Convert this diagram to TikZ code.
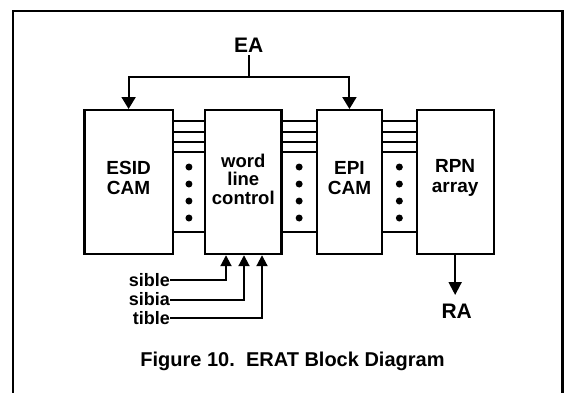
\documentclass[tikz,border=0pt]{standalone}
\usepackage{fontspec}
\setmainfont{Liberation Sans}
\usetikzlibrary{arrows.meta,calc}
\begin{document}
\begin{tikzpicture}[x=1pt,y=-1pt,
  blk/.style={draw,line width=2.2pt,inner sep=0pt,anchor=north west},
  blktxt/.style={align=center,inner sep=0pt,font=\fontsize{19}{20}\bfseries\selectfont},
  lbl/.style={inner sep=0pt,font=\fontsize{18}{18}\bfseries\selectfont},
  big/.style={inner sep=0pt,font=\fontsize{21}{21}\bfseries\selectfont},
  wire/.style={line width=2pt},
  arr/.style={wire,-{Triangle[width=14pt,length=12pt]}},
  arrs/.style={wire,-{Triangle[width=11pt,length=11pt]}},
  bus/.style={line width=2pt},
  dot/.style={circle,fill,inner sep=0pt,minimum size=7pt}
]
\useasboundingbox (0,0) rectangle (565,392);
% frame
\draw[line width=2.2pt] (13.3,400) -- (13.3,11) -- (562.5,11) -- (562.5,400);
% blocks
\node[blk,minimum width=88.4pt,minimum height=144pt] (esid) at (83.3,109) {};
\node[blk,minimum width=76.4pt,minimum height=144pt] (wlc) at (204,109) {};
\node[blk,minimum width=65.3pt,minimum height=144pt] (epi) at (315.7,109) {};
\node[blk,minimum width=77.1pt,minimum height=144pt] (rpn) at (415.5,109) {};
\node[blktxt] (t1) at ($(esid.center)+(0,-4)$) {ESID\\CAM};
\node[blktxt,font=\fontsize{18.5}{18.5}\bfseries\selectfont] (t2) at ($(wlc.center)+(0,-3)$) {word\\line\\control};
\node[blktxt] (t3) at ($(epi.center)+(0,-4)$) {EPI\\CAM};
\node[blktxt] (t4) at ($(rpn.center)+(0,-4)$) {RPN\\array};
% buses between blocks
\foreach \a/\b in {esid/wlc,wlc/epi,epi/rpn}{
  \foreach \d in {12,22.5,33,43,123}{
    \draw[bus] ($(\a.north east)+(0,\d)$) -- ($(\b.north west)+(0,\d)$);
  }
  \foreach \d in {58,75,92,109}{
    \path ($(\a.north east)!0.5!(\b.north west)+(0,\d)$) node[dot] {};
  }
}
% EA
\node[big] (ea) at (248.6,45) {EA};
\coordinate (j) at (248.6,76.7);
\draw[wire] (ea.south) ++(0,3) -- (j);
\draw[arr] (j) -| (esid.north);
\draw[arr] (j) -| (epi.north);
% control inputs
\node[lbl,anchor=east] (sible) at (170,280) {sible};
\node[lbl,anchor=east] (sibia) at (170,299.5) {sibia};
\node[lbl,anchor=east] (tible) at (170,318) {tible};
\draw[arrs] (sible.east) -| ($(wlc.south west)+(22,0)$);
\draw[arrs] (sibia.east) -| ($(wlc.south west)+(40,0)$);
\draw[arrs] (tible.east) -| ($(wlc.south west)+(58,0)$);
% RA
\node[big] (ra) at (456.7,311) {RA};
\draw[wire,-{Triangle[width=13pt,length=13pt]}] (rpn.south) -- (rpn.south |- 0,295);
% caption
\node[inner sep=0pt,font=\fontsize{20}{20}\bfseries\selectfont] (cap) at (292.5,361) {Figure 10.\ \ ERAT Block Diagram};
\end{tikzpicture}
\end{document}
